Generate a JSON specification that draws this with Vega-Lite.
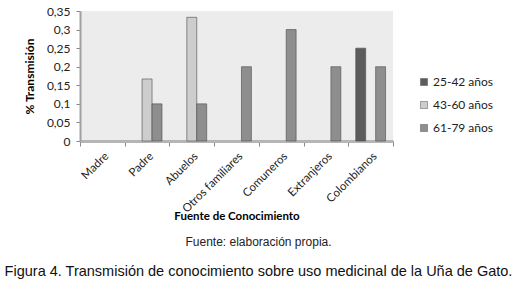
{
  "$schema": "https://vega.github.io/schema/vega-lite/v6.json",
  "autosize": {"type": "none"},
  "padding": {"left": 80, "top": 11, "right": 125, "bottom": 146},
  "width": 313,
  "height": 130,
  "background": "white",
  "config": {
    "view": {"fill": "#ececec", "stroke": null},
    "font": "Lato"
  },
  "title": {
    "text": "Fuente: elaboración propia.",
    "subtitle": "Figura 4. Transmisión de conocimiento sobre uso medicinal de la Uña de Gato.",
    "orient": "bottom",
    "anchor": "middle",
    "frame": "group",
    "dx": 22,
    "offset": 15,
    "font": "Liberation Sans",
    "fontSize": 12,
    "fontWeight": "normal",
    "color": "#222222",
    "subtitleFont": "Liberation Sans",
    "subtitleFontSize": 14.5,
    "subtitleColor": "#111111",
    "subtitlePadding": 16
  },
  "data": {
    "values": [
      {"fuente": "Padre", "grupo": "43-60 años", "valor": 0.167},
      {"fuente": "Padre", "grupo": "61-79 años", "valor": 0.1},
      {"fuente": "Abuelos", "grupo": "43-60 años", "valor": 0.333},
      {"fuente": "Abuelos", "grupo": "61-79 años", "valor": 0.1},
      {"fuente": "Otros familiares", "grupo": "61-79 años", "valor": 0.2},
      {"fuente": "Comuneros", "grupo": "61-79 años", "valor": 0.3},
      {"fuente": "Extranjeros", "grupo": "61-79 años", "valor": 0.2},
      {"fuente": "Colombianos", "grupo": "25-42 años", "valor": 0.25},
      {"fuente": "Colombianos", "grupo": "61-79 años", "valor": 0.2}
    ]
  },
  "mark": {"type": "bar", "stroke": "#4a4a4a", "strokeWidth": 0.6, "cornerRadiusTop": 2},
  "encoding": {
    "x": {
      "field": "fuente",
      "type": "nominal",
      "scale": {
        "domain": ["Madre", "Padre", "Abuelos", "Otros familiares", "Comuneros", "Extranjeros", "Colombianos"],
        "paddingInner": 0,
        "paddingOuter": 0
      },
      "axis": {
        "title": "Fuente de Conocimiento",
        "titleFont": "Lato",
        "titleFontSize": 11.5,
        "titleFontWeight": "bold",
        "titleColor": "#000000",
        "titlePadding": -4,
        "labelAngle": -45,
        "labelFontSize": 11.5,
        "labelColor": "#222222",
        "labelPadding": 4,
        "tickBand": "extent",
        "tickColor": "#888888",
        "tickSize": 5,
        "domainColor": "#b5b5b5",
        "domainWidth": 3
      }
    },
    "xOffset": {
      "field": "grupo",
      "type": "nominal",
      "scale": {"domain": ["25-42 años", "43-60 años", "61-79 años"], "paddingInner": 0, "paddingOuter": 0.75}
    },
    "y": {
      "field": "valor",
      "type": "quantitative",
      "scale": {"domain": [0, 0.35], "nice": false},
      "axis": {
        "title": "% Transmisión",
        "titleFont": "Lato",
        "titleFontSize": 12,
        "titleFontWeight": "bold",
        "titleColor": "#000000",
        "titlePadding": 10,
        "values": [0, 0.05, 0.1, 0.15, 0.2, 0.25, 0.3, 0.35],
        "labelExpr": "replace(format(datum.value, '~g'), '.', ',')",
        "labelFontSize": 12,
        "labelColor": "#222222",
        "labelPadding": 6,
        "grid": false,
        "tickColor": "#888888",
        "tickSize": 4,
        "domainColor": "#a0a0a0",
        "domainWidth": 2
      }
    },
    "color": {
      "field": "grupo",
      "type": "nominal",
      "scale": {
        "domain": ["25-42 años", "43-60 años", "61-79 años"],
        "range": ["#5c5c5c", "#cdcdcd", "#8e8e8e"]
      },
      "legend": {
        "title": null,
        "orient": "none",
        "legendX": 338,
        "legendY": 65,
        "symbolType": "square",
        "symbolSize": 50,
        "symbolStrokeColor": "#555555",
        "symbolStrokeWidth": 0.5,
        "labelFontSize": 12,
        "labelColor": "#222222",
        "labelOffset": 3,
        "rowPadding": 11
      }
    }
  }
}
